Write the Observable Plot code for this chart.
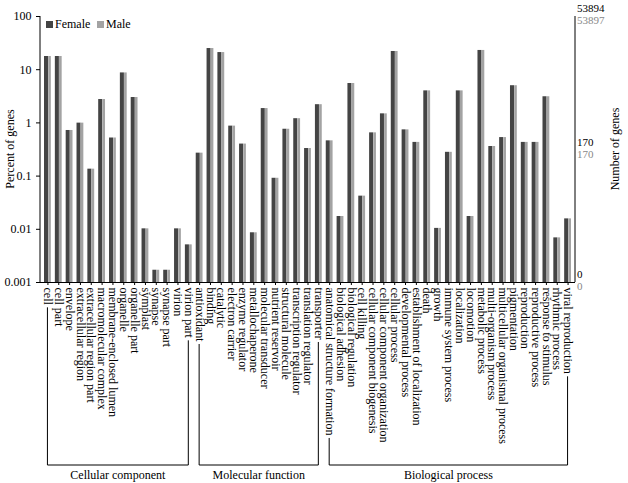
<!DOCTYPE html>
<html><head><meta charset="utf-8">
<script src="https://cdn.jsdelivr.net/npm/d3@7"></script>
<script src="https://cdn.jsdelivr.net/npm/@observablehq/plot@0.6"></script>
<style>body{margin:0;background:#fff}</style>
</head><body><div id="chart"></div>
<script>
const groups = ["Cellular component","Molecular function","Biological process"];
const ccTerms = ["cell","cell part","envelope","extracellular region","extracellular region part","macromolecular complex","membrane-enclosed lumen","organelle","organelle part","symplast","synapse","synapse part","virion","virion part"];
const mfTerms = ["antioxidant","binding","catalytic","electron carrier","enzyme regulator","metallochaperone","molecular transducer","nutrient reservoir","structural molecule","transcription regulator","translation regulator","transporter"];
const bpTerms = ["anatomical structure formation","biological adhesion","biological regulation","cell killing","cellular component biogenesis","cellular component organization","cellular process","developmental process","establishment of localization","death","growth","immune system process","localization","locomotion","metabolic process","multi-organism process","multicellular organismal process","pigmentation","reproduction","reproductive process","response to stimulus","rhythmic process","viral reproduction"];
const female = [17.7,17.7,0.72,0.99,0.135,2.75,0.52,8.7,3.0,0.0102,0.0017,0.0017,0.0102,0.0051,
  0.27,25,21,0.87,0.40,0.0086,1.86,0.091,0.76,1.2,0.33,2.2,
  0.46,0.0174,5.5,0.042,0.65,1.48,22,0.74,0.43,4.0,0.0104,0.28,4.0,0.0174,23,0.36,0.53,5.0,0.43,0.43,3.1,0.0069,0.0157];
const male = female.slice();
const rightTop = ["53894","53897"], rightMid = ["170","170"], rightBot = ["0","0"];
const seriesColors = ["#444444","#a3a3a3"];

const terms = [...ccTerms, ...mfTerms, ...bpTerms];
const data = terms.flatMap((t,i)=>[{term:t,sex:"Female",v:female[i]},{term:t,sex:"Male",v:male[i]}]);
const bw = 7;
const plot = Plot.plot({
  width:628, height:483,
  marginTop:16, marginLeft:40, marginRight:53, marginBottom:201,
  style:"font-family:'Liberation Serif',serif;font-size:12px;color:#000;background:#fff;",
  x:{domain:terms, padding:0.37, label:null, tickRotate:90, tickSize:3, tickPadding:2},
  y:{type:"log", domain:[0.001,100], ticks:[0.001,0.01,0.1,1,10,100], tickFormat:d=>String(d), label:null, tickSize:4},
  marks:[
    Plot.barY(data.filter(d=>d.sex==="Female"),{x:"term", y1:0.001, y2:"v", fill:seriesColors[0], insetRight:bw*0.4}),
    Plot.barY(data.filter(d=>d.sex==="Male"),{x:"term", y1:0.001, y2:"v", fill:seriesColors[1], insetLeft:bw*0.6}),
    Plot.ruleY([0.001],{stroke:"#000"})
  ]
});
document.getElementById("chart").appendChild(plot);
const svg = d3.select(plot);
const X = plot.scale("x"), Y = plot.scale("y");
const xl = 40, xr = 575;
const g = svg.append("g").attr("text-anchor","start").attr("fill","#000");
g.append("line").attr("x1",xl).attr("x2",xl).attr("y1",Y.apply(100)).attr("y2",Y.apply(0.001)).attr("stroke","#000");
g.append("line").attr("x1",xr).attr("x2",xr).attr("y1",Y.apply(100)).attr("y2",Y.apply(0.001)).attr("stroke","#000");
const rl = [[rightTop,Y.apply(100)],[rightMid,Y.apply(0.3)],[rightBot,Y.apply(0.001)]];
for (const [lab,y] of rl){
  g.append("text").attr("x",xr+2).attr("y",y-4).text(lab[0]).attr("fill","#000").attr("font-size",11);
  g.append("text").attr("x",xr+2).attr("y",y+8).text(lab[1]).attr("fill","#888").attr("font-size",11);
}
g.append("text").attr("transform",`translate(${xr+44},${(Y.apply(100)+Y.apply(0.001))/2}) rotate(-90)`).attr("text-anchor","middle").text("Number of genes").attr("font-size",12);
g.append("text").attr("transform",`translate(14,${(Y.apply(100)+Y.apply(0.001))/2}) rotate(-90)`).attr("text-anchor","middle").text("Percent of genes").attr("font-size",12);
// legend
const lg = [["Female",seriesColors[0],46],["Male",seriesColors[1],97]];
for (const [n,c,x] of lg){
  g.append("rect").attr("x",x).attr("y",21).attr("width",7).attr("height",7).attr("fill",c);
  g.append("text").attr("x",x+9).attr("y",28).text(n).attr("font-size",12);
}
// brackets
const texts = new Map();
svg.selectAll("[aria-label='x-axis tick label'] text").each(function(){ texts.set(this.textContent,this); });
const bracketY = 465;
[[ccTerms,0],[mfTerms,1],[bpTerms,2]].forEach(([ts,gi])=>{
  const ends = [ts[0], ts[ts.length-1]].map(t=>{
    const el = texts.get(t);
    const len = el ? el.getComputedTextLength() : 50;
    return {x: X.apply(t)+X.bandwidth/2, y: Y.apply(0.001)+5+len+3};
  });
  const p = `M${ends[0].x},${ends[0].y}V${bracketY}H${ends[1].x}V${ends[1].y}`;
  g.append("path").attr("d",p).attr("fill","none").attr("stroke","#000");
  g.append("text").attr("x",(ends[0].x+ends[1].x)/2).attr("y",bracketY+14).attr("text-anchor","middle").text(groups[gi]).attr("font-size",12);
});
</script></body></html>
